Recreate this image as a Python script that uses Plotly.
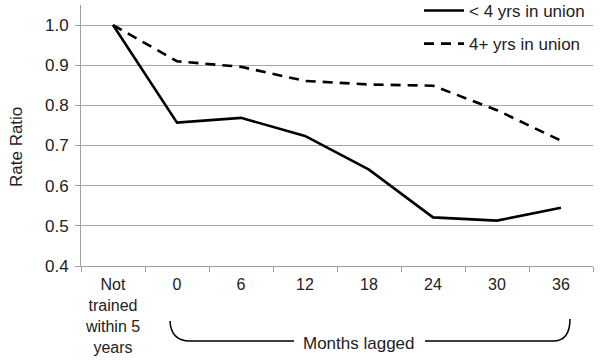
import plotly.graph_objects as go

categories = ["Not<br>trained<br>within 5<br>years", "0", "6", "12", "18", "24", "30", "36"]
short_union = [1.0, 0.757, 0.769, 0.724, 0.640, 0.521, 0.513, 0.545]
long_union = [1.0, 0.910, 0.896, 0.861, 0.852, 0.849, 0.788, 0.712]
y_ticks = [0.4, 0.5, 0.6, 0.7, 0.8, 0.9, 1.0]
y_tick_labels = ["0.4", "0.5", "0.6", "0.7", "0.8", "0.9", "1.0"]

W, H = 600, 362
L, R, T, B = 81, 7, 5, 96
pw, ph = W - L - R, H - T - B

def px(x):
    return (x - L) / pw

def py(y):
    return (H - B - y) / ph

FONT = "Liberation Sans, Arial, sans-serif"

fig = go.Figure()
fig.add_trace(go.Scatter(x=categories, y=short_union, mode="lines", name="< 4 yrs in union",
                         line=dict(color="black", width=2.6), legendgroup="a"))
fig.add_trace(go.Scatter(x=categories, y=long_union, mode="lines", name="4+ yrs in union",
                         line=dict(color="black", width=2.6, dash="10px,7px"), legendgroup="b"))

fig.update_layout(
    width=W, height=H,
    margin=dict(l=L, r=R, t=T, b=B, autoexpand=False),
    paper_bgcolor="white", plot_bgcolor="white",
    font=dict(family=FONT, size=17, color="#222"),
    showlegend=True,
    legend=dict(x=px(419), y=py(-7), xanchor="left", yanchor="top",
                bgcolor="rgba(0,0,0,0)", font=dict(size=17, color="#222"),
                tracegroupgap=8, traceorder="grouped", itemwidth=40),
    xaxis=dict(type="category", range=[-0.5, 7.5], showgrid=False,
               showline=True, linecolor="#a0a0a0", linewidth=1,
               ticks="outside", ticklen=5, tickcolor="#a0a0a0", tickson="boundaries",
               ticklabelstandoff=4, tickangle=0,
               tickfont=dict(size=16, color="#222"), fixedrange=True),
    yaxis=dict(range=[0.4, 1.05], tickvals=y_ticks, ticktext=y_tick_labels,
               showgrid=True, gridcolor="#a6a6a6", gridwidth=1,
               showline=True, linecolor="#a0a0a0", linewidth=1,
               ticks="outside", ticklen=5, tickcolor="#a0a0a0",
               ticklabelstandoff=3,
               tickfont=dict(size=17, color="#222"), zeroline=False),
)

# y-axis title
fig.add_annotation(text="Rate Ratio", x=px(17), y=py(147), xref="paper", yref="paper",
                   textangle=-90, showarrow=False, font=dict(size=17, color="#222"),
                   xanchor="center", yanchor="middle")

# Months lagged brace
left_path = (f"M {px(170)},{py(321)} Q {px(171)},{py(341)} {px(190)},{py(341)} "
             f"L {px(294)},{py(341)}")
right_path = (f"M {px(425)},{py(341)} L {px(553)},{py(341)} "
              f"Q {px(570)},{py(341)} {px(570)},{py(319)}")
for p in (left_path, right_path):
    fig.add_shape(type="path", path=p, xref="paper", yref="paper",
                  line=dict(color="black", width=1.5))
fig.add_annotation(text="Months lagged", x=px(359), y=py(343), xref="paper", yref="paper",
                   showarrow=False, font=dict(size=17, color="#222"),
                   xanchor="center", yanchor="middle")

fig.write_html("out.html", config={"displayModeBar": False},
               post_script="document.body.style.margin='0';")
